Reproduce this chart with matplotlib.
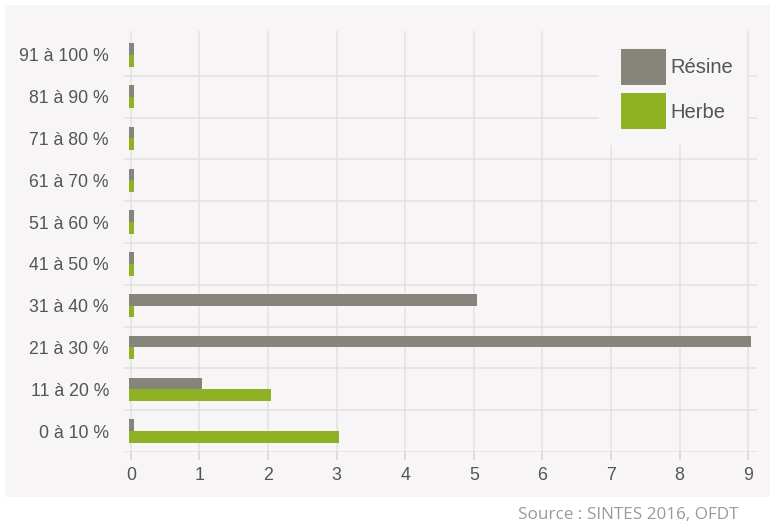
import matplotlib
matplotlib.use("Agg")
import matplotlib.pyplot as plt
from matplotlib.patches import Rectangle, Patch
import numpy as np

categories = ["0 à 10 %", "11 à 20 %", "21 à 30 %", "31 à 40 %", "41 à 50 %",
              "51 à 60 %", "61 à 70 %", "71 à 80 %", "81 à 90 %", "91 à 100 %"]
resine = [0, 1, 9, 5, 0, 0, 0, 0, 0, 0]
herbe = [3, 2, 0, 0, 0, 0, 0, 0, 0, 0]
x_ticks = list(range(0, 10))

GRAY = "#86857c"
GREEN = "#8fb224"
BG = "#f7f5f6"
GRID = "#e3e1e2"
TEXT = "#555555"

plt.rcParams["font.family"] = ["Liberation Sans", "DejaVu Sans"]

W, H = 776, 526
fig = plt.figure(figsize=(W / 100, H / 100), dpi=100)
fig.patch.set_facecolor("white")
fig.patches.append(Rectangle((5 / W, 1 - 497 / H), 765 / W, 492 / H,
                             transform=fig.transFigure, facecolor=BG,
                             edgecolor="none", zorder=-10))

ax = fig.add_axes([124 / W, 1 - 452 / H, (757 - 124) / W, (452 - 31) / H])
ax.set_facecolor("none")

y = np.arange(len(categories))
h = 0.28
# bars start slightly left of zero and keep a thin stub for zero values
x0 = -0.03
stub = 0.07
ax.barh(y + h / 2, np.array(resine) + stub, height=h, left=x0, color=GRAY, zorder=3)
ax.barh(y - h / 2, np.array(herbe) + stub, height=h, left=x0, color=GREEN, zorder=3)

ax.set_xlim(-0.1, 9.13)
ax.set_ylim(-0.5, 9.57)

for b in np.arange(-0.5, 9.0, 1.0):
    ax.axhline(b, color=GRID, lw=1.1, zorder=1)
for xv in x_ticks:
    ax.axvline(xv, color=GRID, lw=1.1, zorder=1)

for s in ax.spines.values():
    s.set_visible(False)

ax.set_xticks(x_ticks)
ax.set_xticklabels([str(v) for v in x_ticks])
ax.tick_params(axis="x", length=6, width=1.1, color="#d5d3d4", labelsize=12.8,
               labelcolor=TEXT, pad=5)
ax.set_yticks(y)
ax.set_yticklabels(categories)
ax.tick_params(axis="y", length=0, labelsize=12.7, labelcolor=TEXT, pad=10.8)

# legend backdrop hides the grid behind it
ax.add_patch(Rectangle((599 / W, 1 - 145 / H), (747 - 599) / W, (145 - 31) / H,
                       transform=fig.transFigure, facecolor=BG, edgecolor="none",
                       zorder=2))
handles = [Patch(facecolor=GRAY, edgecolor="none"),
           Patch(facecolor=GREEN, edgecolor="none")]
leg = fig.legend(handles, ["Résine", "Herbe"], loc="upper left",
                 bbox_to_anchor=(621 / W, 1 - 49 / H), bbox_transform=fig.transFigure,
                 frameon=False, fontsize=14.5, handlelength=2.24, handleheight=2.39,
                 handletextpad=0.22, labelspacing=0.4, borderpad=0, borderaxespad=0,
                 labelcolor=TEXT)

fig.text(738 / W, 1 - 515 / H, "Source : SINTES 2016, OFDT", ha="right",
         va="center", fontsize=12.3, color="#9a9a9a", family=["Open Sans", "DejaVu Sans"])

fig.savefig("out.png", dpi=100)
